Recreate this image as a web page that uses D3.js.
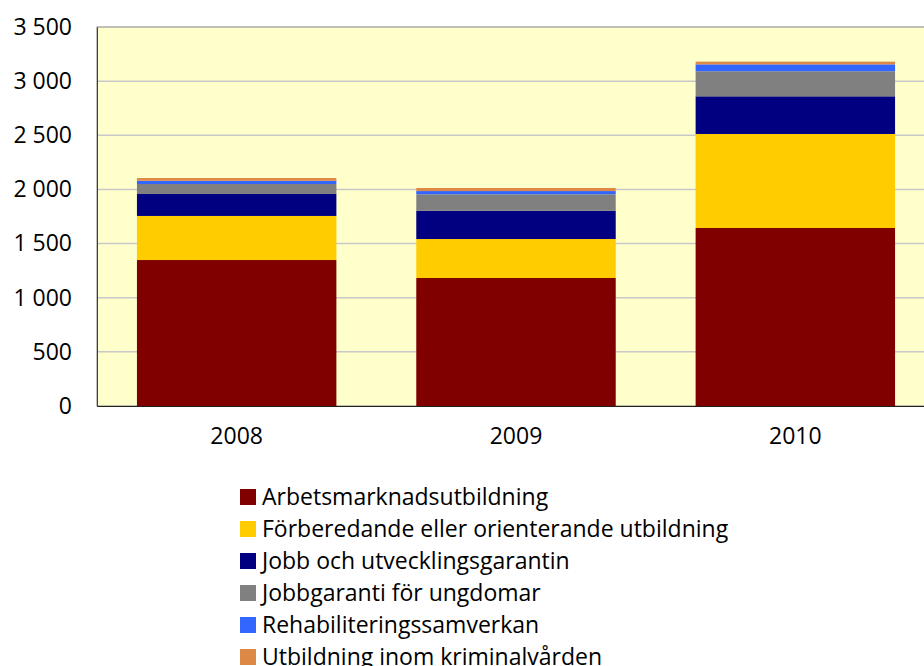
<!DOCTYPE html>
<html><head><meta charset="utf-8">
<script src="https://cdn.jsdelivr.net/npm/d3@7"></script>
<style>body{margin:0;background:#fff}svg{display:block}text{font-family:"Open Sans",sans-serif}</style>
</head><body><svg id="c" width="924" height="666"></svg>
<script>
const years = ["2008","2009","2010"];
const seriesNames = ["Arbetsmarknadsutbildning","Förberedande eller orienterande utbildning","Jobb och utvecklingsgarantin","Jobbgaranti för ungdomar","Rehabiliteringssamverkan","Utbildning inom kriminalvården"];
const colors = ["#800000","#FFCC00","#000080","#808080","#3366FF","#DD8844"];
const arbets = [1348,1182,1644];
const forb = [407,360,868];
const jobbUtv = [203,262,348];
const jobbGar = [92,151,231];
const rehab = [30,30,64];
const krim = [25,28,25];
const yTicks = [0,500,1000,1500,2000,2500,3000,3500];
const tickLabels = ["0","500","1 000","1 500","2 000","2 500","3 000","3 500"];

const vals = [arbets,forb,jobbUtv,jobbGar,rehab,krim];
const data = years.map((y,i)=>{const o={year:y}; seriesNames.forEach((s,j)=>o[s]=vals[j][i]); return o;});
const stack = d3.stack().keys(seriesNames)(data);

const svg = d3.select("#c");
const L=97, R=935, T=27, B=406;
const x = d3.scaleBand().domain(years).range([L,R]).paddingInner(0.286).paddingOuter(0.143);
const y = d3.scaleLinear().domain([0,3500]).range([B,T]);

svg.append("rect").attr("x",L).attr("y",T).attr("width",R-L).attr("height",B-T).attr("fill","#FFFFCC").attr("stroke","#808080").attr("stroke-width",1);
svg.append("g").selectAll("line").data(yTicks.filter(t=>t>0&&t<3500)).join("line")
 .attr("x1",L).attr("x2",R).attr("y1",d=>y(d)).attr("y2",d=>y(d)).attr("stroke","#C8C8C8").attr("stroke-width",1.5);

svg.append("g").selectAll("g").data(stack).join("g").attr("fill",(d,i)=>colors[i])
 .selectAll("rect").data(d=>d).join("rect")
 .attr("x",d=>x(d.data.year)).attr("width",x.bandwidth())
 .attr("y",d=>y(d[1])).attr("height",d=>y(d[0])-y(d[1]));

const ya = d3.axisLeft(y).tickValues(yTicks).tickFormat((d,i)=>tickLabels[i]).tickSize(0).tickPadding(25);
const gy = svg.append("g").attr("transform",`translate(${L},0)`).call(ya);
gy.select(".domain").attr("stroke","#404040");
gy.selectAll("text").attr("font-size",23).attr("fill","#000");

const xa = d3.axisBottom(x).tickSize(0).tickPadding(22);
const gx = svg.append("g").attr("transform",`translate(0,${B})`).call(xa);
gx.select(".domain").attr("stroke","#202020");
gx.selectAll("text").attr("font-size",23).attr("fill","#000");

const lg = svg.append("g").selectAll("g").data(seriesNames).join("g")
 .attr("transform",(d,i)=>`translate(240,${497+i*32})`);
lg.append("rect").attr("x",0).attr("y",-8).attr("width",16).attr("height",16).attr("fill",(d,i)=>colors[i]);
lg.append("text").attr("x",22).attr("y",0).attr("dy","0.35em").attr("font-size",23).text(d=>d);
</script></body></html>
